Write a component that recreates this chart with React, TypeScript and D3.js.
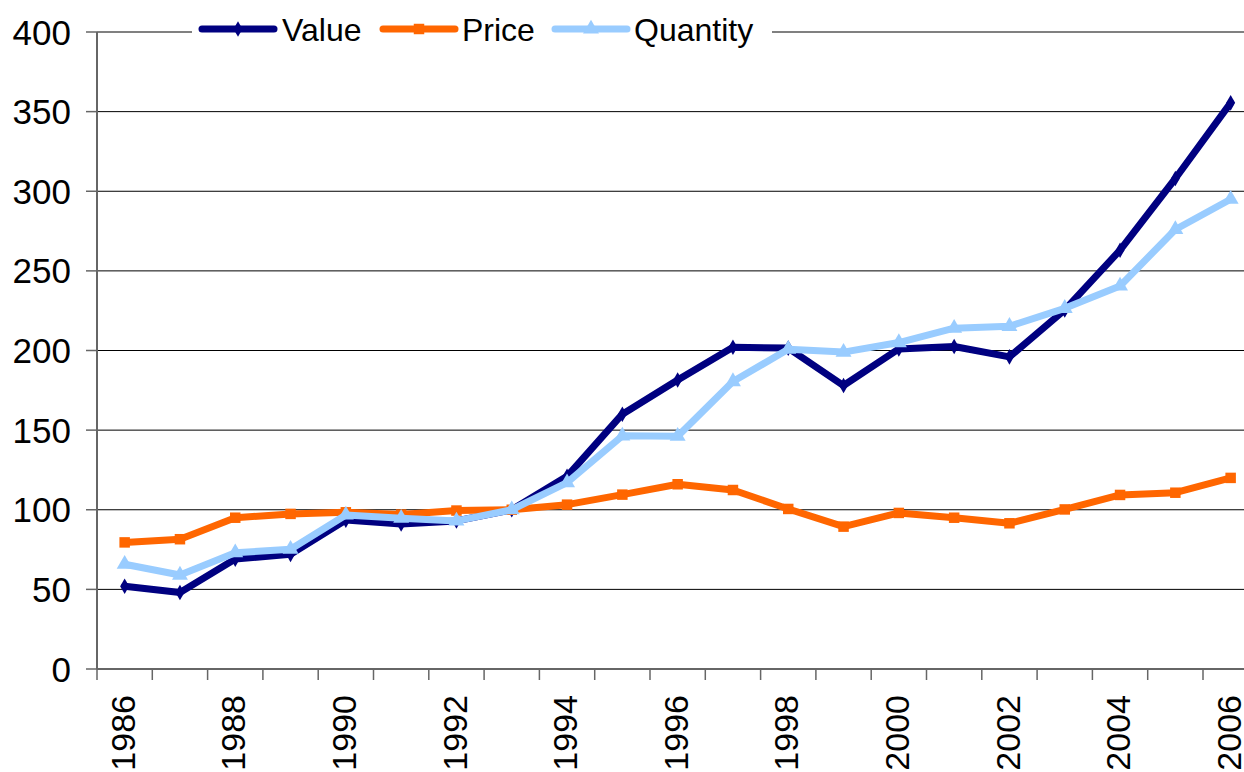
import React, { useEffect, useRef } from 'react';
import * as d3 from 'd3';

const years = ['1986', '1987', '1988', '1989', '1990', '1991', '1992', '1993', '1994', '1995', '1996',
  '1997', '1998', '1999', '2000', '2001', '2002', '2003', '2004', '2005', '2006'];

const valueSeries = [52, 48, 69, 72, 93.5, 91, 93, 100, 121, 160, 181.5, 202, 201.5, 178, 201, 202.5, 196, 225.5, 263, 308, 355.5];
const priceSeries = [79.5, 81.5, 95, 97.4, 98.4, 97, 99.5, 100, 103.2, 109.5, 116, 112.4, 100.5, 89.4, 98, 95, 91.5, 100.2, 109.3, 110.7, 120];
const quantitySeries = [65.8, 59, 73, 75.2, 96.7, 94.7, 93, 100, 117, 146.4, 146.2, 180.5, 200.8, 199, 205, 214, 215.2, 226.5, 240.5, 276, 295];

const yTicks = [0, 50, 100, 150, 200, 250, 300, 350, 400];
const xLabels = ['1986', '1988', '1990', '1992', '1994', '1996', '1998', '2000', '2002', '2004', '2006'];

const series = [
  { name: 'Value', values: valueSeries, color: '#000080', marker: 'diamond' },
  { name: 'Price', values: priceSeries, color: '#FF6600', marker: 'square' },
  { name: 'Quantity', values: quantitySeries, color: '#99CCFF', marker: 'triangle' },
];

const FONT = '"Liberation Sans", Arial, sans-serif';

const App = () => {
  const chartRef = useRef<SVGSVGElement>(null);

  useEffect(() => {
    const svg = d3.select(chartRef.current);
    svg.selectAll('*').remove();

    const left = 97;
    const top = 32;
    const bottom = 669;
    const band = 55.3;

    const x = d3.scaleBand<string>()
      .domain(years)
      .range([left, left + band * years.length]);

    const y = d3.scaleLinear()
      .domain([0, 400])
      .range([bottom, top]);

    const cx = (d: string) => (x(d) as number) + x.bandwidth() / 2;

    // gridlines
    svg.append('g')
      .selectAll('line')
      .data(yTicks.filter(t => t > 0 && t < 400))
      .enter().append('line')
      .attr('x1', left).attr('x2', 1244)
      .attr('y1', d => y(d)).attr('y2', d => y(d))
      .attr('stroke', '#000').attr('stroke-width', 1);

    // top border
    svg.append('line')
      .attr('x1', left).attr('x2', 1244)
      .attr('y1', y(400)).attr('y2', y(400))
      .attr('stroke', '#808080').attr('stroke-width', 2);

    // Y axis
    svg.append('line')
      .attr('x1', left).attr('x2', left)
      .attr('y1', y(400)).attr('y2', y(0))
      .attr('stroke', '#666').attr('stroke-width', 2);

    svg.append('g')
      .selectAll('line')
      .data(yTicks)
      .enter().append('line')
      .attr('x1', 86).attr('x2', left)
      .attr('y1', d => y(d)).attr('y2', d => y(d))
      .attr('stroke', '#666').attr('stroke-width', 1.5);

    svg.append('g')
      .selectAll('text')
      .data(yTicks)
      .enter().append('text')
      .attr('x', 71)
      .attr('y', d => y(d))
      .attr('dy', '0.36em')
      .attr('text-anchor', 'end')
      .attr('font-family', FONT)
      .attr('font-size', 35)
      .attr('fill', '#000')
      .text(d => d);

    // X axis
    svg.append('line')
      .attr('x1', left).attr('x2', 1244)
      .attr('y1', y(0)).attr('y2', y(0))
      .attr('stroke', '#666').attr('stroke-width', 2);

    const edges = years.map(d => x(d) as number).concat([(x(years[years.length - 1]) as number) + x.bandwidth()]);
    svg.append('g')
      .selectAll('line')
      .data(edges)
      .enter().append('line')
      .attr('x1', d => d).attr('x2', d => d)
      .attr('y1', y(0)).attr('y2', y(0) + 11)
      .attr('stroke', '#666').attr('stroke-width', 1.5);

    svg.append('g')
      .selectAll('text')
      .data(xLabels)
      .enter().append('text')
      .attr('transform', d => `translate(${cx(d)},${y(0) + 26}) rotate(-90)`)
      .attr('dy', '0.3em')
      .attr('text-anchor', 'end')
      .attr('font-family', FONT)
      .attr('font-size', 34)
      .attr('fill', '#000')
      .text(d => d);

    // Lines
    const line = d3.line<number>()
      .x((_, i) => cx(years[i]))
      .y(d => y(d));

    series.forEach(s => {
      const g = svg.append('g');
      g.append('path')
        .datum(s.values)
        .attr('d', line)
        .attr('fill', 'none')
        .attr('stroke', s.color)
        .attr('stroke-width', 7)
        .attr('stroke-linejoin', 'round')
        .attr('stroke-linecap', 'round');

      const symType = s.marker === 'diamond' ? d3.symbolDiamond : s.marker === 'square' ? d3.symbolSquare : d3.symbolTriangle;
      const symSize = s.marker === 'diamond' ? 70 : 110;
      g.selectAll('path.m')
        .data(s.values)
        .enter().append('path')
        .attr('class', 'm')
        .attr('transform', (d, i) => `translate(${cx(years[i])},${y(d)})`)
        .attr('d', d3.symbol().type(symType).size(symSize)())
        .attr('fill', s.color);
    });

    // Legend
    svg.append('rect')
      .attr('x', 192).attr('y', 10)
      .attr('width', 580).attr('height', 40)
      .attr('fill', '#fff');

    const legendItems = [
      { s: series[0], x1: 202, x2: 274, tx: 282 },
      { s: series[1], x1: 383, x2: 455, tx: 462 },
      { s: series[2], x1: 555, x2: 627, tx: 634 },
    ];
    legendItems.forEach(it => {
      const g = svg.append('g');
      g.append('line')
        .attr('x1', it.x1).attr('x2', it.x2)
        .attr('y1', 29).attr('y2', 29)
        .attr('stroke', it.s.color)
        .attr('stroke-width', 7)
        .attr('stroke-linecap', 'round');
      const symType = it.s.marker === 'diamond' ? d3.symbolDiamond : it.s.marker === 'square' ? d3.symbolSquare : d3.symbolTriangle;
      g.append('path')
        .attr('transform', `translate(${(it.x1 + it.x2) / 2},29)`)
        .attr('d', d3.symbol().type(symType).size(it.s.marker === 'diamond' ? 70 : 110)())
        .attr('fill', it.s.color);
      g.append('text')
        .attr('x', it.tx).attr('y', 41)
        .attr('font-family', FONT)
        .attr('font-size', 32)
        .attr('fill', '#000')
        .text(it.s.name);
    });
  }, []);

  return (
    <svg ref={chartRef} width={1244} height={772}
      style={{ position: 'absolute', left: 0, top: 0, background: '#fff' }}></svg>
  );
};

export default App;
